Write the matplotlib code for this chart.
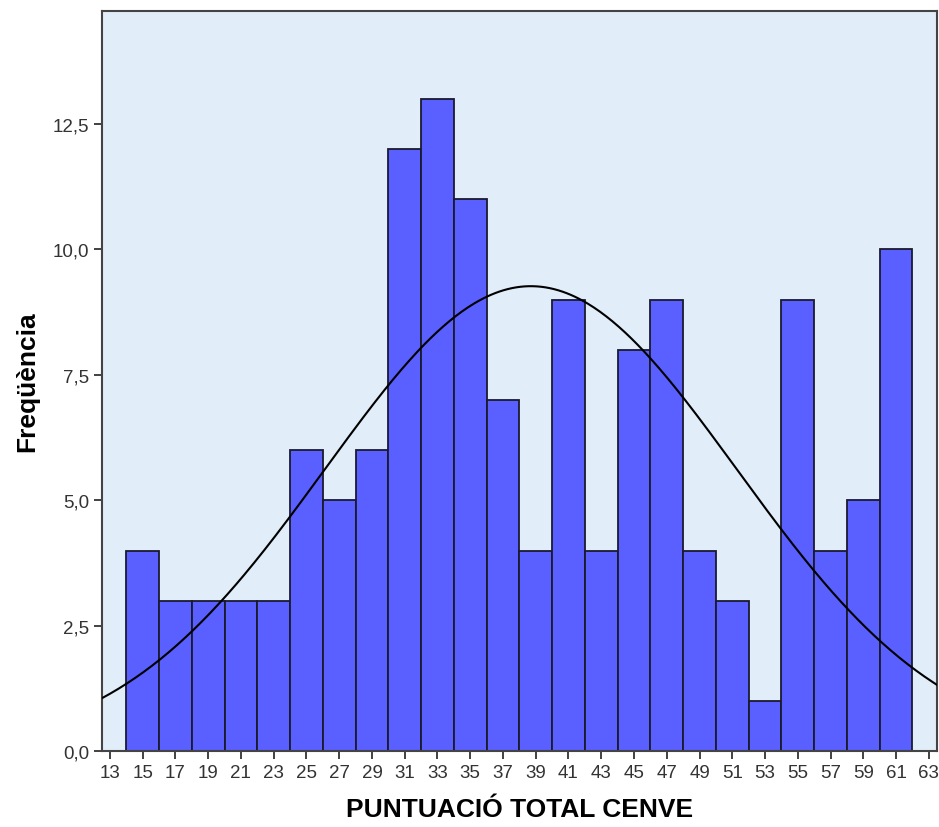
import numpy as np
import matplotlib
matplotlib.use("Agg")
from matplotlib import pyplot as plt
import matplotlib.ticker as ticker

plt.rcParams['font.family'] = ['Liberation Sans', 'DejaVu Sans']

# histogram data (bin width 2, first bin starts at 14)
bin_edges = np.arange(14, 64, 2)
counts = [4, 3, 3, 3, 3, 6, 5, 6, 12, 13, 11, 7, 4, 9, 4, 8, 9, 4, 3, 1, 9, 4, 5, 10]
# fitted normal curve parameters
mean_val = 38.7
std_val = 12.57
n_total = sum(counts)
bin_width = 2

x_ticks = list(range(13, 64, 2))
y_ticks = [0, 2.5, 5.0, 7.5, 10.0, 12.5]

fig = plt.figure(figsize=(9.39, 8.28), dpi=100)
ax = fig.add_axes([0.1083, 0.0914, 0.8896, 0.8941])
ax.set_facecolor('#E1EEFA')

ax.bar(bin_edges[:-1], counts, width=bin_width, align='edge',
       color='#5A5FFF', edgecolor='#1a1a2e', linewidth=1.3, zorder=2)

xs = np.linspace(12.5, 63.5, 400)
ys = n_total * bin_width / (std_val * np.sqrt(2 * np.pi)) * np.exp(-(xs - mean_val) ** 2 / (2 * std_val ** 2))
ax.plot(xs, ys, color='black', linewidth=1.5, zorder=3)

ax.set_xlim(12.5, 63.5)
ax.set_ylim(0, 14.75)
ax.set_xticks(x_ticks)
ax.set_yticks(y_ticks)
ax.yaxis.set_major_formatter(ticker.FuncFormatter(lambda v, p: ('%.1f' % v).replace('.', ',')))

for s in ax.spines.values():
    s.set_color('#444444')
    s.set_linewidth(1.5)

ax.tick_params(axis='both', which='major', labelsize=13.5, length=6, width=1.3,
               color='#333333', labelcolor='#333333', pad=3, direction='out')

ax.set_xlabel('PUNTUACIÓ TOTAL CENVE', fontsize=19, fontweight='bold', labelpad=12)
ax.set_ylabel('Freqüència', fontsize=19, fontweight='bold', labelpad=10)

fig.savefig('out.png', dpi=100)
